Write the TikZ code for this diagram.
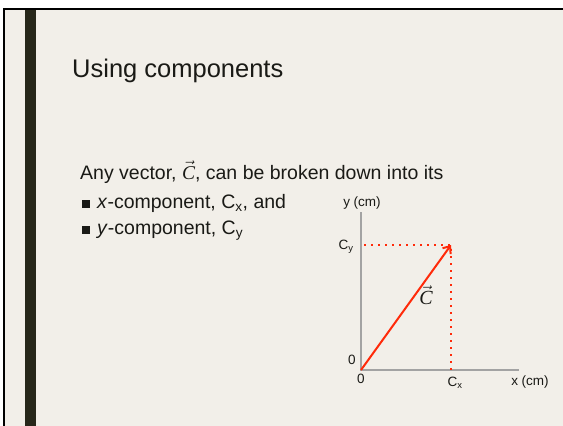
\documentclass[tikz,border=0pt]{standalone}
\usepackage{fontspec}
\setmainfont{Liberation Sans}
\newfontfamily\serifit{Liberation Serif}
\usetikzlibrary{arrows.meta}
\definecolor{bg}{HTML}{F2EFE9}
\definecolor{barc}{HTML}{27271A}
\definecolor{txt}{HTML}{1A1A16}
\definecolor{vred}{HTML}{FF2A0A}
\definecolor{axisc}{HTML}{A3A3A3}
\newcommand{\vecC}{\ensuremath{\vec{\hbox{\serifit\itshape C}}}}
\tikzset{
  body/.style={anchor=base west, text=txt, font=\fontsize{19.5}{23}\selectfont, inner sep=0pt},
  lbl/.style={text=txt, font=\fontsize{13.5}{15}\selectfont, inner sep=0pt},
  bulletsq/.style={fill=txt, minimum size=8pt, inner sep=0pt},
  axisline/.style={axisc, line width=2pt},
  dotline/.style={vred, line width=2pt, dash pattern=on 2pt off 5pt},
  vecline/.style={vred, line width=2pt, -{Straight Barb[length=6pt,width=10pt,line width=2pt]}}
}
\begin{document}
\begin{tikzpicture}[x=1pt,y=-1pt]
\useasboundingbox (0,0) rectangle (563,426);
\fill[white] (0,0) rectangle (563,426);
\draw[line width=2pt, fill=bg] (4,9) rectangle (580,440);
\fill[barc] (25,10) rectangle (36,426);
\node[anchor=base west, text=txt, font=\fontsize{25.5}{30}\selectfont, inner sep=0pt] (title) at (72,77) {Using components};
\node[body] (l1) at (80,179) {Any vector, \vecC, can be broken down into its};
\node[bulletsq] (b1) at (86,203.5) {};
\node[body] (l2) at (97,208) {\textit{x}-component, C\textsubscript{x}, and};
\node[bulletsq] (b2) at (86,229.5) {};
\node[body] (l3) at (97,234) {\textit{y}-component, C\textsubscript{y}};
% graph
\coordinate (O) at (361,370);
\coordinate (P) at (451,245);
\coordinate (ytop) at (361,212);
\coordinate (xend) at (519,370);
\coordinate (hy) at (364,245);
\coordinate (vx) at (451,370);
\draw[axisline] (ytop) -- (O) -- (xend);
\draw[dotline] (hy) -- (P) -- (vx);
\draw[vecline] (O) -- (P);
\node[lbl] (ylab) at (362,203) {y (cm)};
\node[lbl] (xlab) at (530,382) {x (cm)};
\node[lbl] (cy) at (346,247) {C\textsubscript{y}};
\node[lbl] (cx) at (455,383) {C\textsubscript{x}};
\node[lbl] (z1) at (352,360) {0};
\node[lbl] (z2) at (361,379) {0};
\node[text=txt, font=\fontsize{20}{22}\selectfont, inner sep=0pt] (clab) at (426,295) {\vecC};
\end{tikzpicture}
\end{document}
